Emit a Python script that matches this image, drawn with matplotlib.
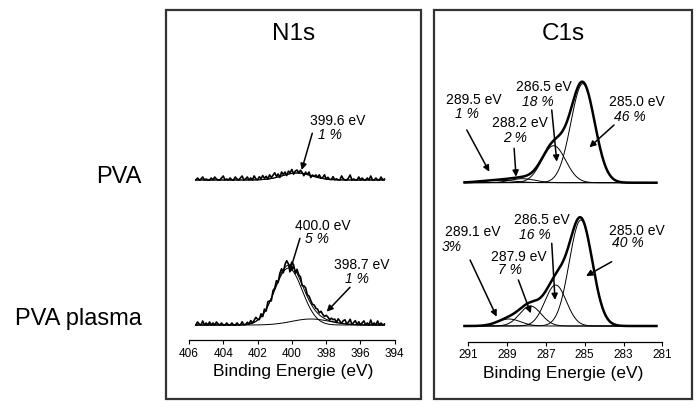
import numpy as np
import matplotlib.pyplot as plt
from matplotlib.patches import Rectangle

plt.rcParams['font.family'] = ['Liberation Sans', 'DejaVu Sans']

# ---- data (intensity in arbitrary units) ----
rows = ['PVA', 'PVA plasma']
regions = ['N1s', 'C1s']
xlabel = 'Binding Energie (eV)'

# N1s
n1s_range = (405.6, 394.6)
n1s_ticks = [406, 404, 402, 400, 398, 396, 394]
n1s_pva_pos = [399.7]
n1s_pva_height = [7]
n1s_pva_fwhm = [2.0]
n1s_pva_labels = [('399.6 eV', '1 %')]
n1s_plasma_pos = [400.2, 398.9]
n1s_plasma_height = [57, 6]
n1s_plasma_fwhm = [1.9, 2.6]
n1s_plasma_labels = [('400.0 eV', '5 %'), ('398.7 eV', '1 %')]

# measured minus fit, every 0.1 eV from 405.6 to 394.6
n1s_pva_noise = [
    0, 2, 0, 1, 3, 0, 1, 0, 0, 2,
    0, 3, 1, 0, 0, 2, 4, 0, 1, 0,
    2, 0, 0, 3, 1, 0, 2, 4, 0, 1,
    3, 0, 2, 0, 4, 1, 0, 3, 1, 4,
    1, 3, 0, 4, 1, 3, 5, 1, 3, -1,
    4, 1, 3, -1, 3, 1, 4, -1, 2, 3,
    0, 3, 1, -2, 2, 0, 3, -2, 1, 0,
    2, 0, 3, 0, 1, 4, 0, 2, 0, 0,
    3, 0, 1, 0, 0, 4, 1, 0, 0, 2,
    5, 0, 1, 0, 0, 3, 0, 2, 0, 0,
    2, 0, 4, 0, 0, 2, 0, 0, 3, 0,
    1]
n1s_plasma_noise = [
    0, 3, 1, 0, 4, 0, 2, 0, 3, 0,
    2, 0, 3, 1, 0, 2, 0, 0, 2, 0,
    0, 2, 0, 0, 2, 0, 0, 3, 0, 0,
    2, 0, 3, 0, 2, 4, 1, -1, 3, -2,
    3, -2, 4, 1, -3, 3, 1, 4, -2, 3,
    4, -3, 3, 5, 1, -2, 4, 3, -3, 4,
    2, 4, -1, 3, 5, 2, 4, 3, 2, 4,
    3, 4, 2, 5, 3, 2, 4, 3, 1, 3,
    2, 3, 0, 4, 2, 0, 3, 4, 0, 2,
    5, 0, 2, 4, 0, 3, 0, 2, 4, 0,
    2, 0, 5, 0, 2, 0, 4, 0, 2, 0,
    1]

# C1s
c1s_range = (291.2, 281.3)
c1s_ticks = [291, 289, 287, 285, 283, 281]
c1s_pva_pos = [285.1, 286.6, 288.2, 289.5]
c1s_pva_height = [99, 37, 4, 2.5]
c1s_pva_fwhm = [1.45, 1.45, 1.5, 2.0]
c1s_pva_labels = [('285.0 eV', '46 %'), ('286.5 eV', '18 %'),
                  ('288.2 eV', '2 %'), ('289.5 eV', '1 %')]
c1s_plasma_pos = [285.2, 286.5, 287.8, 288.9]
c1s_plasma_height = [106, 41, 20, 7]
c1s_plasma_fwhm = [1.4, 1.3, 1.3, 1.4]
c1s_plasma_labels = [('285.0 eV', '40 %'), ('286.5 eV', '16 %'),
                     ('287.9 eV', '7 %'), ('289.1 eV', '3%')]

# ---- layout (axes y runs 0..389 from box bottom) ----
# each entry: eV text xy, % text xy, arrow tail, arrow tip
n1s_pva_ann = [((397.35, 278), (397.78, 264), (398.81, 265.7), (399.43, 229))]
n1s_plasma_ann = [((398.17, 173), (398.55, 159.7), (399.53, 160.7), (400.15, 125.7)),
                  ((395.93, 134), (396.22, 119.7), (396.61, 111.7), (397.97, 87.3))]
c1s_pva_ann = [((282.32, 297.3), (282.66, 282.3), (283.49, 274), (284.76, 251.7)),
               ((287.10, 312.3), (287.39, 297.3), (286.70, 289), (286.44, 237.3)),
               ((288.34, 275.7), (288.59, 260.7), (288.64, 250.7), (288.54, 222.3)),
               ((290.70, 299.5), (291.08, 285), (291.08, 269), (289.92, 227.3))]
c1s_plasma_ann = [((282.32, 168.3), (282.75, 155.7), (283.61, 137.3), (284.93, 123)),
                  ((287.22, 179), (287.56, 164), (286.70, 155.7), (286.53, 99)),
                  ((288.42, 142.3), (288.85, 129), (288.42, 119), (287.78, 85.7)),
                  ((290.78, 167), (291.84, 152), (290.91, 139), (289.54, 82.3))]


def gauss(e, pos, h, fwhm):
    return h * np.exp(-4 * np.log(2) * ((e - pos) / fwhm) ** 2)


def draw_spectrum(ax, e, pos, heights, widths, base, noise=None):
    comps = [gauss(e, p, h, w) for p, h, w in zip(pos, heights, widths)]
    fit = np.sum(comps, axis=0)
    for c in comps:
        ax.plot(e, base + c, color='k', lw=0.7)
    if noise is not None:
        ax.plot(e, base + fit, color='k', lw=0.7)
        ax.plot(e, base + fit + np.array(noise), color='k', lw=1.2)
    else:
        ax.plot(e, base + fit, color='k', lw=1.8)


def annotate(ax, labels, places):
    for (ev, pct), (t1, t2, tail, tip) in zip(labels, places):
        ax.text(*t1, ev, ha='center', va='center', fontsize=10)
        ax.text(*t2, pct, ha='center', va='center', fontsize=10, style='italic')
        ax.annotate('', xy=tip, xytext=tail,
                    arrowprops=dict(arrowstyle='-|>', color='k', lw=1.1,
                                    mutation_scale=9, shrinkA=0, shrinkB=0))


def setup(ax, xlim, ticks, axis_y, title):
    ax.set_xlim(xlim)
    ax.set_ylim(0, 389)
    for s in ['left', 'right', 'top']:
        ax.spines[s].set_visible(False)
    ax.spines['bottom'].set_position(('data', axis_y))
    ax.spines['bottom'].set_bounds(min(ticks), max(ticks))
    ax.spines['bottom'].set_linewidth(0.9)
    ax.set_xticks(ticks)
    ax.set_yticks([])
    ax.tick_params(axis='x', direction='out', length=3, width=0.8,
                   labelsize=8.5, pad=2.5)
    ax.set_xlabel(xlabel, fontsize=12.5, labelpad=3)
    ax.text(0.5, 0.938, title, transform=ax.transAxes, ha='center',
            va='center', fontsize=17.5)
    ax.add_patch(Rectangle((0, 0), 1, 1, transform=ax.transAxes, fill=False,
                           lw=1.6, ec='#333333', clip_on=False))


fig = plt.figure(figsize=(7, 4.12), dpi=100)
ax_n = fig.add_axes([166 / 700, 13 / 412, 255 / 700, 389 / 412])
ax_c = fig.add_axes([434 / 700, 13 / 412, 258 / 700, 389 / 412])

setup(ax_n, (407.34, 392.47), n1s_ticks, 59, regions[0])
setup(ax_c, (292.77, 279.47), c1s_ticks, 57.3, regions[1])

e_n = np.linspace(n1s_range[0], n1s_range[1], len(n1s_pva_noise))
draw_spectrum(ax_n, e_n, n1s_pva_pos, n1s_pva_height, n1s_pva_fwhm, 219, n1s_pva_noise)
draw_spectrum(ax_n, e_n, n1s_plasma_pos, n1s_plasma_height, n1s_plasma_fwhm, 74, n1s_plasma_noise)
annotate(ax_n, n1s_pva_labels, n1s_pva_ann)
annotate(ax_n, n1s_plasma_labels, n1s_plasma_ann)

e_c = np.linspace(c1s_range[0], c1s_range[1], 400)
draw_spectrum(ax_c, e_c, c1s_pva_pos, c1s_pva_height, c1s_pva_fwhm, 216.3)
draw_spectrum(ax_c, e_c, c1s_plasma_pos, c1s_plasma_height, c1s_plasma_fwhm, 73)
annotate(ax_c, c1s_pva_labels, c1s_pva_ann)
annotate(ax_c, c1s_plasma_labels, c1s_plasma_ann)

# row labels
fig.text(141.7 / 700, 1 - 183 / 412, rows[0], ha='right', va='baseline', fontsize=17)
fig.text(141.7 / 700, 1 - 325 / 412, rows[1], ha='right', va='baseline', fontsize=17)

fig.savefig('out.png', dpi=100)
